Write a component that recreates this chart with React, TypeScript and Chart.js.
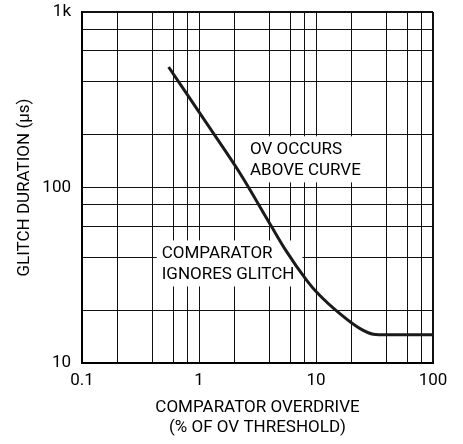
import { useEffect, useRef } from 'react';
import { Chart, registerables } from 'chart.js';

Chart.register(...registerables);
Chart.defaults.font.family = 'Roboto, sans-serif';
Chart.defaults.color = '#000';

// curve: glitch duration (µs) vs comparator overdrive (% of OV threshold)
const overdrive = [0.55, 1.24, 2.24, 4.18, 5.5, 8.33, 10.1, 16, 23.8, 30.9, 40, 100];
const glitchDuration = [486, 218, 120.5, 59.7, 44, 29.6, 25.4, 19.1, 15.7, 14.6, 14.5, 14.5];

// grid lines and labelled ticks
const xGridValues = [0.1, 0.2, 0.4, 0.6, 0.8, 1, 2, 4, 6, 8, 10, 20, 40, 60, 80, 100];
const yGridValues = [10, 20, 40, 60, 80, 100, 200, 400, 600, 800, 1000];
const xLabelValues = [0.1, 1, 10, 100];
const xLabels = ['0.1', '1', '10', '100'];
const yLabelValues = [10, 100, 1000];
const yLabels = ['10', '100', '1k'];

// notes inside the plot (anchor = left edge / first line, in data units)
const noteLines = [
  ['OV OCCURS', 'ABOVE CURVE'],
  ['COMPARATOR', 'IGNORES GLITCH'],
];
const noteX = [2.73, 0.48];
const noteY = [165, 42.1];

const notesPlugin = {
  id: 'notes',
  beforeDatasetsDraw(chart: any) {
    const { ctx, scales } = chart;
    ctx.save();
    ctx.font = '17px Roboto, sans-serif';
    ctx.textBaseline = 'middle';
    ctx.textAlign = 'left';
    noteLines.forEach((lines, i) => {
      const left = scales.x.getPixelForValue(noteX[i]);
      const top = scales.y.getPixelForValue(noteY[i]);
      const w = Math.max(...lines.map((l) => ctx.measureText(l).width));
      ctx.fillStyle = '#fff';
      ctx.fillRect(left - 5, top - 13, w + 13, (lines.length - 1) * 21 + 25);
      ctx.fillStyle = '#000';
      lines.forEach((l, j) => ctx.fillText(l, left, top + j * 21));
    });
    ctx.restore();
  },
};

export default function App() {
  const canvasRef = useRef<HTMLCanvasElement>(null);

  useEffect(() => {
    if (!canvasRef.current) return;
    const chart = new Chart(canvasRef.current, {
      type: 'line',
      data: {
        datasets: [
          {
            data: overdrive.map((v, i) => ({ x: v, y: glitchDuration[i] })),
            borderColor: '#1a1a1a',
            borderWidth: 3,
            pointRadius: 0,
            cubicInterpolationMode: 'monotone',
            fill: false,
          },
        ],
      },
      options: {
        animation: false,
        responsive: true,
        maintainAspectRatio: false,
        layout: { padding: { top: 12, right: 30, left: 0, bottom: 0 } },
        plugins: {
          legend: { display: false },
          tooltip: { enabled: false },
        },
        scales: {
          x: {
            type: 'logarithmic',
            min: 0.1,
            max: 100,
            afterBuildTicks: (s: any) => {
              s.ticks = xGridValues.map((v) => ({ value: v }));
            },
            afterFit: (s: any) => {
              s.height = 81;
              s.paddingLeft = 0;
              s.paddingRight = 0;
            },
            ticks: {
              autoSkip: false,
              maxRotation: 0,
              padding: 8,
              font: { size: 17 },
              callback: (v: any) => {
                const k = xLabelValues.indexOf(v);
                return k >= 0 ? xLabels[k] : '';
              },
            },
            grid: {
              color: '#111',
              lineWidth: (c: any) => (c.tick && c.tick.value === 100 ? 2 : 1),
              drawTicks: false,
            },
            border: { color: '#000', width: 2 },
            title: {
              display: true,
              text: ['COMPARATOR OVERDRIVE', '(% OF OV THRESHOLD)'],
              font: { size: 17, lineHeight: 1.18 },
              padding: { top: 0, bottom: 6 },
            },
          },
          y: {
            type: 'logarithmic',
            min: 10,
            max: 1000,
            afterBuildTicks: (s: any) => {
              s.ticks = yGridValues.map((v) => ({ value: v }));
            },
            afterFit: (s: any) => {
              s.width = 82;
              s.paddingTop = 0;
              s.paddingBottom = 0;
            },
            ticks: {
              autoSkip: false,
              padding: 11,
              font: { size: 17 },
              callback: (v: any) => {
                const k = yLabelValues.indexOf(v);
                return k >= 0 ? yLabels[k] : '';
              },
            },
            grid: {
              color: '#111',
              lineWidth: (c: any) => (c.tick && c.tick.value === 1000 ? 2 : 1),
              drawTicks: false,
            },
            border: { color: '#000', width: 2 },
            title: {
              display: true,
              text: 'GLITCH DURATION (μs)',
              font: { size: 17 },
              padding: { top: 15, bottom: 0 },
            },
          },
        },
      },
      plugins: [notesPlugin],
    } as any);

    return () => {
      chart.destroy();
    };
  }, []);

  return (
    <div style={{ position: 'absolute', left: 0, top: 0, width: 463, height: 444, background: '#fff' }}>
      <canvas ref={canvasRef}></canvas>
    </div>
  );
}
